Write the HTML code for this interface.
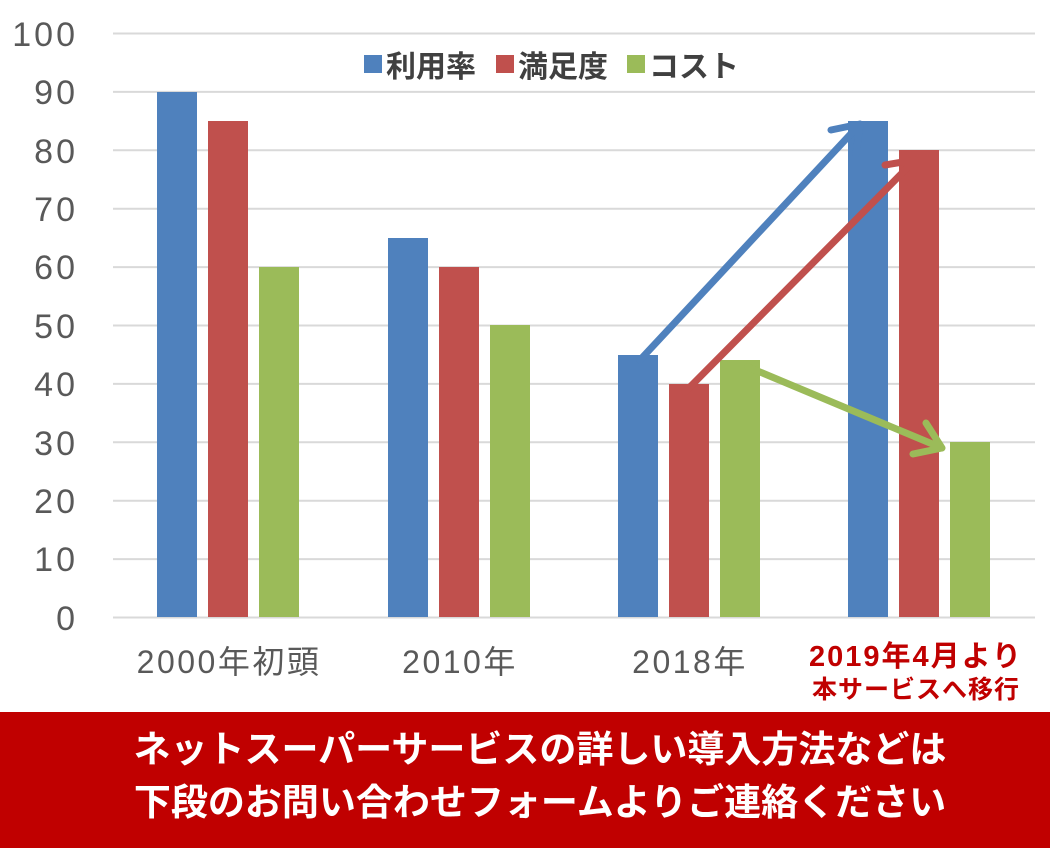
<!DOCTYPE html>
<html><head><meta charset="utf-8"><style>
body{margin:0;width:1050px;height:861px;background:#fff;overflow:hidden;font-family:"Liberation Sans","Noto Sans CJK JP",sans-serif}
</style></head><body>
<svg width="1050" height="861" xmlns="http://www.w3.org/2000/svg" style="position:absolute;left:0;top:0">
<g stroke="#d9d9d9" stroke-width="2">
<line x1="113" x2="1035" y1="33.5" y2="33.5"/><line x1="113" x2="1035" y1="91.9" y2="91.9"/><line x1="113" x2="1035" y1="150.3" y2="150.3"/><line x1="113" x2="1035" y1="208.7" y2="208.7"/><line x1="113" x2="1035" y1="267.1" y2="267.1"/><line x1="113" x2="1035" y1="325.5" y2="325.5"/><line x1="113" x2="1035" y1="383.9" y2="383.9"/><line x1="113" x2="1035" y1="442.3" y2="442.3"/><line x1="113" x2="1035" y1="500.7" y2="500.7"/><line x1="113" x2="1035" y1="559.1" y2="559.1"/><line x1="113" x2="1035" y1="617.5" y2="617.5"/>
</g>
<g font-size="34" fill="#595959" text-anchor="end" letter-spacing="3">
<text x="78" y="46">100</text><text x="78" y="104">90</text><text x="78" y="163">80</text><text x="78" y="221">70</text><text x="78" y="279">60</text><text x="78" y="338">50</text><text x="78" y="396">40</text><text x="78" y="455">30</text><text x="78" y="513">20</text><text x="78" y="571">10</text><text x="78" y="630">0</text>
</g>
<g fill="#4f81bd"><rect x="157" y="92" width="40" height="525"/><rect x="388" y="238" width="40" height="379"/><rect x="618" y="355" width="40" height="262"/><rect x="848" y="121" width="40" height="496"/></g>
<g fill="#c0504d"><rect x="208" y="121" width="40" height="496"/><rect x="439" y="267" width="40" height="350"/><rect x="669" y="384" width="40" height="233"/><rect x="899" y="150" width="40" height="467"/></g>
<g fill="#9bbb59"><rect x="259" y="267" width="40" height="350"/><rect x="490" y="325" width="40" height="292"/><rect x="720" y="360" width="40" height="257"/><rect x="950" y="442" width="40" height="175"/></g>
<g fill="none" stroke-width="7" stroke-linecap="round" stroke-linejoin="round">
<path d="M640,360 L860,124 M831,130 L860,124 L856,154" stroke="#4f81bd"/>
<path d="M685,392 L915,160 M885,165 L915,160 L910,190" stroke="#c0504d"/>
<path d="M748,367 L942,448 M926,423 L942,448 L913,454" stroke="#9bbb59"/>
</g>
<g font-size="30" fill="#404040" font-weight="bold">
<rect x="364" y="55" width="18" height="18" fill="#4f81bd"/><text x="386" y="77">利用率</text>
<rect x="496" y="55" width="18" height="18" fill="#c0504d"/><text x="518" y="77">満足度</text>
<rect x="627" y="55" width="18" height="18" fill="#9bbb59"/><text x="649" y="77">コスト</text>
</g>
<g font-size="32" fill="#595959" text-anchor="middle" letter-spacing="2.5">
<text x="229" y="673">2000年初頭</text><text x="460" y="673">2010年</text><text x="690" y="673">2018年</text>
</g>
<g fill="#c00000" font-weight="bold" text-anchor="middle">
<text x="916" y="666" font-size="29" letter-spacing="2">2019年4月より</text>
<text x="916" y="698" font-size="25" letter-spacing="1">本サービスへ移行</text>
</g>
<rect x="0" y="712" width="1050" height="136" fill="#c00000"/>
<g fill="#fff" font-weight="bold" font-size="37" text-anchor="middle">
<text x="540" y="762">ネットスーパーサービスの詳しい導入方法などは</text>
<text x="540" y="815">下段のお問い合わせフォームよりご連絡ください</text>
</g>
</svg>
</body></html>
